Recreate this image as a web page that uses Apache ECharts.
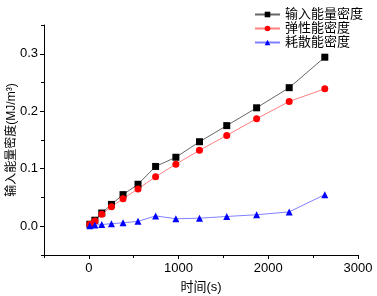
<!DOCTYPE html>
<html><head><meta charset="utf-8">
<script src="https://cdn.jsdelivr.net/npm/echarts@6/dist/echarts.min.js"></script>
<style>html,body{margin:0;padding:0;background:#fff}#c{width:377px;height:296px}</style>
</head><body><div id="c"></div>
<script>
var times = [11, 67, 144, 252, 381, 548, 744, 970, 1233, 1537, 1870, 2233, 2630];
var inputEnergy = [0.0035, 0.0105, 0.023, 0.038, 0.055, 0.073, 0.104, 0.120, 0.147, 0.175, 0.206, 0.241, 0.294];
var elasticEnergy = [0.0035, 0.009, 0.021, 0.034, 0.048, 0.065, 0.086, 0.108, 0.132, 0.158, 0.187, 0.217, 0.239];
var dissipatedEnergy = [0.001, 0.002, 0.003, 0.0045, 0.006, 0.0085, 0.018, 0.013, 0.014, 0.017, 0.020, 0.025, 0.055];
var seriesNames = ['输入能量密度', '弹性能密度', '耗散能密度'];
var xMajor = [0, 1000, 2000, 3000];
var xMinor = [-500, 500, 1500, 2500];
var yMajor = [0, 0.1, 0.2, 0.3];
var yMinor = [-0.05, 0.05, 0.15, 0.25, 0.35];
var xTitle = '时间(s)';
var yTitle = '输入能量密度(MJ/m³)';

function pairs(ys){ return times.map(function(t,i){ return [t, ys[i]]; }); }
var FONT = '"Liberation Sans", Arial, "Noto Sans CJK SC", sans-serif';
var chart = echarts.init(document.getElementById('c'));
var axLine = {show:true, onZero:false, lineStyle:{color:'#000', width:1}};
chart.setOption({
  animation:false,
  textStyle:{fontFamily:FONT},
  grid:{left:44, right:19, top:25, bottom:41, containLabel:false, outerBoundsMode:'none'},
  legend:{
    right:9, top:3, orient:'vertical', itemWidth:25, itemHeight:7, itemGap:1,
    textStyle:{fontSize:13, color:'#000', fontFamily:FONT},
    data:seriesNames
  },
  xAxis:[{
    type:'value', min:-500, max:3000, position:'bottom',
    name:xTitle, nameLocation:'middle', nameGap:26,
    nameTextStyle:{fontSize:13, color:'#000', fontFamily:FONT},
    axisLine:axLine, splitLine:{show:false},
    axisTick:{show:true, inside:false, length:4, customValues:xMajor, lineStyle:{color:'#000'}},
    axisLabel:{customValues:xMajor, fontSize:13, color:'#000', margin:7, fontFamily:FONT,
      formatter:function(v){ return String(v); }}
  },{
    type:'value', min:-500, max:3000, position:'bottom', gridIndex:0,
    axisLine:{show:false, onZero:false}, splitLine:{show:false},
    axisTick:{show:true, length:3, customValues:xMinor, lineStyle:{color:'#000'}},
    axisLabel:{show:false, customValues:xMinor}
  }],
  yAxis:[{
    type:'value', min:-0.05, max:0.35, position:'left',
    name:yTitle, nameLocation:'middle', nameGap:26, nameRotate:90, nameMoveOverlap:false,
    nameTextStyle:{fontSize:12, color:'#000', fontFamily:FONT},
    axisLine:axLine, splitLine:{show:false},
    axisTick:{show:true, length:4, customValues:yMajor, lineStyle:{color:'#000'}},
    axisLabel:{customValues:yMajor, fontSize:13, color:'#000', margin:6, fontFamily:FONT,
      formatter:function(v){ return v.toFixed(1); }}
  },{
    type:'value', min:-0.05, max:0.35, position:'left', gridIndex:0,
    axisLine:{show:false, onZero:false}, splitLine:{show:false},
    axisTick:{show:true, length:3, customValues:yMinor, lineStyle:{color:'#000'}},
    axisLabel:{show:false, customValues:yMinor}
  }],
  series:[
    {name:seriesNames[0], type:'line', data:pairs(inputEnergy), symbol:'rect', symbolSize:7,
      itemStyle:{color:'#000'}, lineStyle:{color:'#666', width:1}},
    {name:seriesNames[1], type:'line', data:pairs(elasticEnergy), symbol:'circle', symbolSize:7,
      itemStyle:{color:'#ff0000'}, lineStyle:{color:'#ff8080', width:1}},
    {name:seriesNames[2], type:'line', data:pairs(dissipatedEnergy), symbol:'triangle', symbolSize:7,
      itemStyle:{color:'#0000ff'}, lineStyle:{color:'#8080ff', width:1}}
  ]
});
</script></body></html>
